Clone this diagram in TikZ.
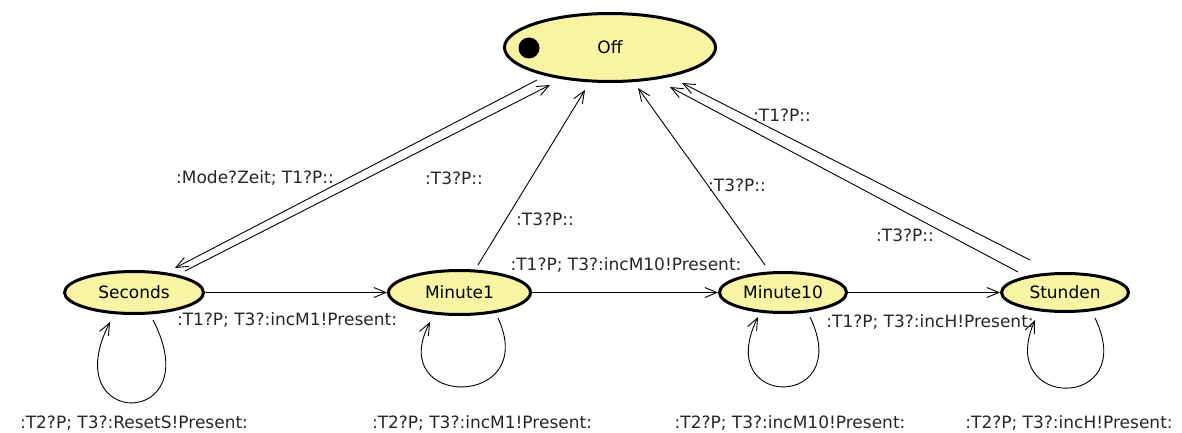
\documentclass[tikz,border=0pt]{standalone}
\usepackage{fontspec}
\setmainfont{DejaVu Sans}
\usetikzlibrary{shapes.geometric,arrows.meta,calc}
\definecolor{stfill}{RGB}{248,244,164}
\begin{document}
\begin{tikzpicture}[x=1pt,y=-1pt,
  state/.style={ellipse,draw=black,line width=3pt,fill=stfill,inner sep=0pt,font=\fontsize{17}{20}\selectfont},
  arr/.style={-{Straight Barb[length=12pt,width=10pt]},line width=0.9pt},
  lbl/.style={font=\fontsize{17}{20}\selectfont,inner sep=0pt,text=black!85}]
\useasboundingbox (0,0) rectangle (1182,433);

% states
\node[state,minimum width=211pt,minimum height=68pt] (off) at (610,47.5) {Off};
\node[circle,fill=black,minimum size=21pt,inner sep=0pt] (dot) at (529,48) {};
\node[state,minimum width=139pt,minimum height=42pt] (sec) at (134,292.5) {Seconds};
\node[state,minimum width=142pt,minimum height=44pt] (m1) at (459.5,292.5) {Minute1};
\node[state,minimum width=127pt,minimum height=40pt] (m10) at (783,292.5) {Minute10};
\node[state,minimum width=127pt,minimum height=38pt] (st) at (1065,292.5) {Stunden};

% transitions to/from Off
\draw[arr] ($(off)+(-73,32.5)$) -- ($(sec)+(41,-24.5)$);
\draw[arr] ($(sec)+(51,-21.5)$) -- ($(off)+(-60,37.5)$);
\draw[arr] ($(m1)+(18.5,-27.5)$) -- ($(off)+(-25,42.5)$);
\draw[arr] ($(m10)+(-18,-27.5)$) -- ($(off)+(28,40.5)$);
\draw[arr] ($(st)+(-35,-32.5)$) -- ($(off)+(72,35.5)$);
\draw[arr] ($(st)+(-47,-20.5)$) -- ($(off)+(60,39.5)$);

% horizontal transitions
\draw[arr] (sec.east) -- (m1.west);
\draw[arr] (m1.east) -- (m10.west);
\draw[arr] (m10.east) -- (st.west);

% self loops
\draw[arr] ($(sec)+(19,27.5)$) .. controls ($(sec)+(76,137.5)$) and ($(sec)+(-79,137.5)$) .. ($(sec)+(-24,29.5)$);
\draw[arr] ($(m1)+(38.5,25.5)$) .. controls ($(m1)+(80.5,116.5)$) and ($(m1)+(-74.5,116.5)$) .. ($(m1)+(-29.5,29.5)$);
\draw[arr] ($(m10)+(27,24.5)$) .. controls ($(m10)+(72,117.5)$) and ($(m10)+(-71,117.5)$) .. ($(m10)+(-25,24.5)$);
\draw[arr] ($(st)+(30,25.5)$) .. controls ($(st)+(75,118.5)$) and ($(st)+(-70,118.5)$) .. ($(st)+(-30,27.5)$);

% labels
\node[lbl] (lA) at (255,178) {:Mode?Zeit; T1?P::};
\node[lbl] (lB) at (454,178) {:T3?P::};
\node[lbl] (lC) at (545,219) {:T3?P::};
\node[lbl] (lD) at (737,185) {:T3?P::};
\node[lbl] (lE) at (782,115) {:T1?P::};
\node[lbl] (lF) at (905,235) {:T3?P::};
\node[lbl] (lG) at (287,320) {:T1?P; T3?:incM1!Present:};
\node[lbl] (lH) at (626,265) {:T1?P; T3?:incM10!Present:};
\node[lbl] (lI) at (930,322) {:T1?P; T3?:incH!Present:};
\node[lbl] (lJ) at (134,423) {:T2?P; T3?:ResetS!Present:};
\node[lbl] (lK) at (482,423) {:T2?P; T3?:incM1!Present:};
\node[lbl] (lL) at (790,423) {:T2?P; T3?:incM10!Present:};
\node[lbl] (lM) at (1069,423) {:T2?P; T3?:incH!Present:};
\end{tikzpicture}
\end{document}
